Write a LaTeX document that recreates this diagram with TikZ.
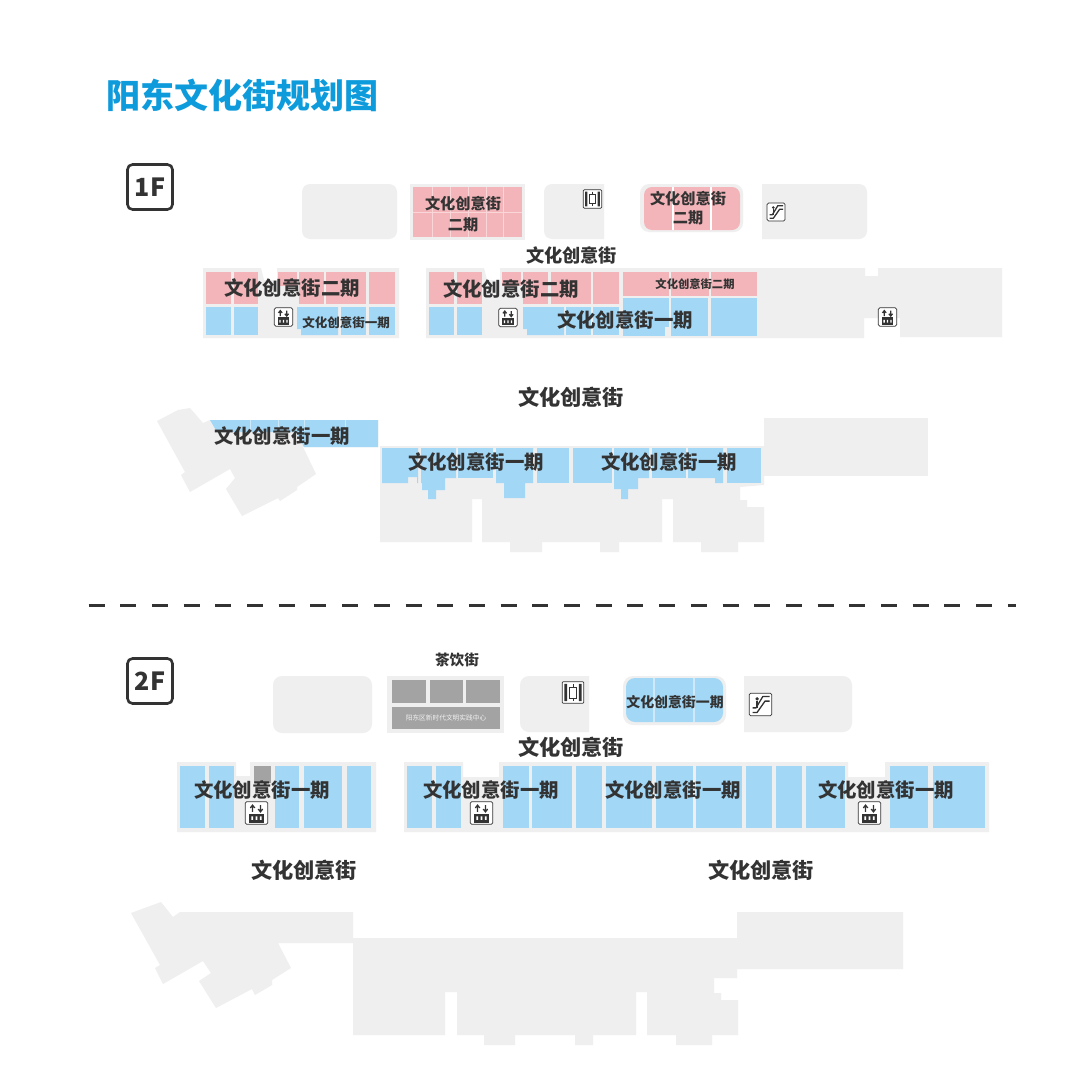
\documentclass[tikz,border=0pt]{standalone}
\usepackage{fontspec}
\setmainfont{Noto Sans CJK SC}
\definecolor{wallgray}{HTML}{EFEFEF}
\definecolor{pinkcell}{HTML}{F4B5BA}
\definecolor{pinkline}{HTML}{F9D6D8}
\definecolor{bluecell}{HTML}{A2D7F6}
\definecolor{blueline}{HTML}{CDE9FA}
\definecolor{darkcell}{HTML}{A3A3A3}
\definecolor{inkdark}{HTML}{333333}
\definecolor{titleblue}{HTML}{0E9BDC}
\tikzset{
  wall/.style={fill=wallgray},
  pinkarea/.style={fill=pinkcell},
  bluearea/.style={fill=bluecell},
  darkarea/.style={fill=darkcell},
  txt/.style={font=\bfseries\fontsize{#1}{#1}\selectfont,text=inkdark,inner sep=0pt},
  floorbox/.style={draw=inkdark,line width=2.6pt,rounded corners=5pt,minimum size=45pt,inner sep=0pt,
    font=\bfseries\fontsize{25}{25}\selectfont,text=inkdark},
  lifticon/.pic={
    \draw[inkdark,fill=white,line width=.7pt,rounded corners=1.5pt] (-10,-10) rectangle (10,10);
    \draw[inkdark,line width=1.2pt] (-3.5,-1) -- (-3.5,-6.5) (-5.5,-4.5) -- (-3.5,-7) -- (-1.5,-4.5);
    \draw[inkdark,line width=1.2pt] (3.5,-7) -- (3.5,-1.5) (1.5,-3.5) -- (3.5,-1) -- (5.5,-3.5);
    \fill[inkdark] (-6.5,0.5) rectangle (6.5,8.5);
    \fill[white] (-4.5,3) rectangle (-3,6) (-.8,3) rectangle (.8,6) (3,3) rectangle (4.5,6);
  },
  cargoicon/.pic={
    \draw[inkdark,fill=white,line width=.7pt,rounded corners=1pt] (-10,-10) rectangle (10,10);
    \fill[inkdark] (-8,-8) rectangle (-5.5,8) (5.5,-8) rectangle (8,8);
    \draw[inkdark,line width=.7pt] (-3,-5) rectangle (3,5) (0,-8) -- (0,-5) (0,5) -- (0,8);
  },
  stairicon/.pic={
    \draw[inkdark,fill=white,line width=.7pt,rounded corners=1.5pt] (-10,-10) rectangle (10,10);
    \draw[inkdark,line width=1.3pt,line join=round] (-7,7) -- (-3,7) -- (4,-3) -- (8,-3) (-7,3) -- (-4,3) -- (2,-7) -- (8,-7);
    \fill[inkdark] (-3,-5) circle (1.6pt);
    \draw[inkdark,line width=1.3pt] (-3,-3) -- (-3,3);
  }
}
\begin{document}
\begin{tikzpicture}[x=1pt,y=-1pt]
\useasboundingbox[fill=white] (0,0) rectangle (1080,1092);
\node[font=\bfseries\fontsize{34}{34}\selectfont,text=titleblue,inner sep=0pt] (title) at (242.5,95) {阳东文化街规划图};
\node[floorbox] (floorone) at (150,187) {1F};
\node[floorbox] (floortwo) at (150,681) {2F};
% first floor, top row
\fill[wall,rounded corners=8pt] (302,184) rectangle (397,239);
\fill[wall] (410,184) rectangle (525,240);
\fill[wall] (604,184) [rounded corners=8pt] -- (544,184) -- (544,239) [sharp corners] -- (604,239) -- cycle;
\fill[wall,rounded corners=9pt] (640,184) rectangle (743,232);
\fill[wall] (762,184) [rounded corners=8pt] -- (867,184) -- (867,239) [sharp corners] -- (762,239) -- cycle;
\fill[pinkarea] (413,187) rectangle (522,237);
\draw[pinkline,line width=.5pt] (413,212) -- (522,212);
\foreach \xa in {432,450,468,486,503} \draw[pinkline,line width=.8pt] (\xa,187) -- (\xa,237);
\fill[pinkarea,rounded corners=8pt] (644,187) rectangle (740,230);
\foreach \xa in {673,711} \draw[white,line width=1.2pt] (\xa,187) -- (\xa,230);
% first floor, middle row
\fill[wall] (203,268) -- (261,268) -- (264,280) -- (277,280) -- (277,268) -- (399,268) -- (399,338) -- (203,338) -- cycle;
\fill[wall] (426,268) -- (484,268) -- (487,280) -- (500,280) -- (500,268) -- (865,268) -- (865,276) -- (878,276) -- (878,268)
  -- (1002,268) -- (1002,337) -- (900,337) -- (900,318) -- (864,318) -- (864,338) -- (426,338) -- cycle;
\foreach \xa/\xb in {206/231,234/258,299/324,326/366,369/395,429/454,457/482,523/548,551/591,593/619}
  \fill[pinkarea] (\xa,272) rectangle (\xb,304);
\fill[pinkarea] (278,272) rectangle (297,286);
\fill[pinkarea] (502,272) rectangle (521,286);
\foreach \xa/\xb in {623/669,671/709,711/757} \fill[pinkarea] (\xa,272) rectangle (\xb,296);
\foreach \xa/\xb in {206/231,234/258,341/366,369/395,429/454,457/482,566/591,593/619}
  \fill[bluearea] (\xa,307) rectangle (\xb,335);
\fill[bluearea] (297,307) -- (338,307) -- (338,335) -- (301,335) -- (301,329) -- (297,329) -- cycle;
\fill[bluearea] (523,307) -- (564,307) -- (564,335) -- (527,335) -- (527,329) -- (523,329) -- cycle;
\fill[bluearea] (623,298) rectangle (669,327);
\fill[bluearea] (623,327) rectangle (665,336);
\fill[bluearea] (671,298) rectangle (708,336);
\fill[bluearea] (711,298) rectangle (757,336);
% first floor, lower block
\fill[wall] (157,421) -- (178,410) -- (190,408) -- (203,423) -- (210,420) -- (378,420) -- (378,447) -- (303,447) -- (316,474) -- (297,487)
  -- (297,490) -- (280,501) -- (278,498) -- (242,516) -- (226,489) -- (235,478) -- (230,469) -- (190,492) -- (181,475) -- (185,472) -- cycle;
\fill[bluearea] (210,420) -- (378,420) -- (378,447) -- (304,447) -- (296,432) -- (217,432) -- cycle;
\foreach \xa in {250,278,304,345} \draw[blueline,line width=.8pt] (\xa,420) -- (\xa,431);
\fill[wall] (380,446) -- (764,446) -- (764,485) -- (740,487) -- (740,500) -- (747,500) -- (747,507) -- (764,507) -- (764,542)
  -- (738,542) -- (738,552) -- (701,552) -- (701,542) -- (673,542) -- (673,499) -- (662,499) -- (662,542) -- (619,542) -- (619,552)
  -- (600,552) -- (600,542) -- (542,542) -- (542,552) -- (510,552) -- (510,542) -- (482,542) -- (482,499) -- (472,499) -- (472,542) -- (380,542) -- cycle;
\fill[wall] (764,418) rectangle (928,476);
\fill[bluearea] (382,448) -- (418,448) -- (418,483) -- (417,483) -- (417,477) -- (408,477) -- (408,483) -- (382,483) -- cycle;
\fill[bluearea] (421,448) -- (456,448) -- (456,478) -- (445,478) -- (445,490) -- (436,490) -- (436,499) -- (428,499) -- (428,490) -- (422,490) -- (422,483) -- (421,483) -- cycle;
\fill[bluearea] (458,448) rectangle (493,478);
\fill[bluearea] (496,448) -- (533,448) -- (533,483) -- (525,483) -- (525,498) -- (504,498) -- (504,483) -- (496,483) -- cycle;
\fill[bluearea] (537,448) rectangle (569,483);
\fill[bluearea] (573,448) rectangle (612,483);
\fill[bluearea] (614,448) -- (649,448) -- (649,478) -- (638,478) -- (638,489) -- (628,489) -- (628,499) -- (621,499) -- (621,489) -- (614,489) -- cycle;
\fill[bluearea] (652,448) rectangle (686,478);
\fill[bluearea] (688,448) -- (723,448) -- (723,483) -- (715,483) -- (715,478) -- (688,478) -- cycle;
\fill[bluearea] (727,448) rectangle (761,483);
% separator
\coordinate (sepleft) at (88.5,605.5);
\coordinate (sepright) at (1016,605.5);
\draw[inkdark,line width=2.8pt,dash pattern=on 16pt off 15.7pt] (sepleft) -- (sepright);
% second floor, top row
\fill[wall,rounded corners=9pt] (273,676) rectangle (372,733);
\fill[wall] (387,676) rectangle (504,733);
\foreach \xa/\xb in {392/426,430/463,466/500} \fill[darkarea] (\xa,680) rectangle (\xb,703);
\fill[darkarea] (392,707) rectangle (500,729);
\fill[wall] (589,676) [rounded corners=9pt] -- (520,676) -- (520,732) [sharp corners] -- (589,732) -- cycle;
\fill[wall,rounded corners=10pt] (623,676) rectangle (726,725);
\fill[wall] (744,676) [rounded corners=9pt] -- (852,676) -- (852,732) [sharp corners] -- (744,732) -- cycle;
\fill[bluearea,rounded corners=9pt] (626,678) rectangle (723,722);
\foreach \xa in {654,694} \draw[blueline,line width=1.2pt] (\xa,678) -- (\xa,722);
% second floor, middle row
\fill[wall] (177,762) -- (236,762) -- (236,776) -- (250,776) -- (250,762) -- (376,762) -- (376,832) -- (177,832) -- cycle;
\fill[wall] (404,762) -- (463,762) -- (463,777) -- (499,777) -- (499,762) -- (848,762) -- (848,777) -- (885,777) -- (885,762)
  -- (989,762) -- (989,832) -- (404,832) -- cycle;
\foreach \xa/\xb in {180/205,209/234,275/299,304/342,347/371,407/432,436/461,503/529,532/572,576/602,606/652,656/693,696/742,746/772,776/802,806/845,890/928,933/985}
  \fill[bluearea] (\xa,766) rectangle (\xb,828);
\fill[darkarea] (254,766) rectangle (271,783);
% second floor, lower block
\fill[wall] (131,913) -- (161,902) -- (173,917) -- (180,912) -- (353,912) -- (353,938) -- (737,938) -- (737,912) -- (903,912) -- (903,969) -- (737,969)
  -- (737,978) -- (714,978) -- (714,993) -- (721,993) -- (721,1000) -- (738,1000) -- (738,1035) -- (712,1035) -- (712,1045) -- (676,1045) -- (676,1035)
  -- (647,1035) -- (647,992) -- (636,992) -- (636,1035) -- (593,1035) -- (593,1045) -- (575,1045) -- (575,1035) -- (515,1035) -- (515,1045) -- (484,1045)
  -- (484,1035) -- (457,1035) -- (457,992) -- (445,992) -- (445,1035) -- (353,1035) -- (353,943) -- (278,943) -- (291,968) -- (272,980) -- (272,985)
  -- (255,995) -- (252,989) -- (216,1008) -- (199,981) -- (211,973) -- (203,961) -- (163,984) -- (155,968) -- (160,965) -- cycle;
% icons
\pic[scale=.92] at (592.5,199) {cargoicon};
\pic[scale=.9] at (776,212) {stairicon};
\pic[scale=.92] at (283.5,317) {lifticon};
\pic[scale=.92] at (508,317.5) {lifticon};
\pic[scale=.92] at (887.5,317) {lifticon};
\pic[scale=1.08] at (573,692.5) {cargoicon};
\pic[scale=1.13] at (760.5,704.5) {stairicon};
\pic[scale=1.13] at (256.5,813) {lifticon};
\pic[scale=1.13] at (481.5,813) {lifticon};
\pic[scale=1.13] at (869.5,813) {lifticon};
% labels
\node[txt=15.2] (pinka) at (463,204) {文化创意街};
\node[txt=15.2] (pinkb) at (463,225) {二期};
\node[txt=15.2] (pinkc) at (688,199) {文化创意街};
\node[txt=15.2] (pinkd) at (688,218) {二期};
\node[txt=18.2] (streeta) at (571.5,255) {文化创意街};
\node[txt=19.4] (phaseb) at (292,288) {文化创意街二期};
\node[txt=19.4] (phasec) at (511,289) {文化创意街二期};
\node[txt=11.3] (phased) at (695,284) {文化创意街二期};
\node[txt=12.5] (phasee) at (346,323) {文化创意街一期};
\node[txt=19.4] (phasef) at (625,320) {文化创意街一期};
\node[txt=21.2] (streetb) at (571,397) {文化创意街};
\node[txt=19.4] (phaseg) at (282,436) {文化创意街一期};
\node[txt=19.4] (phaseh) at (476,462) {文化创意街一期};
\node[txt=19.4] (phasei) at (669,462) {文化创意街一期};
\node[txt=14.6] (teastreet) at (457,660) {茶饮街};
\node[font=\fontsize{6.7}{6.7}\selectfont,text=white!85!darkcell,inner sep=0pt] (centre) at (446,718) {阳东区新时代文明实践中心};
\node[txt=13.9] (phasej) at (675,702) {文化创意街一期};
\node[txt=21.2] (streetc) at (571,747) {文化创意街};
\node[txt=19.4] (phasek) at (262,790) {文化创意街一期};
\node[txt=19.4] (phasel) at (491,790) {文化创意街一期};
\node[txt=19.4] (phasem) at (673,790) {文化创意街一期};
\node[txt=19.4] (phasen) at (886,790) {文化创意街一期};
\node[txt=21.2] (streetd) at (304,870) {文化创意街};
\node[txt=21.2] (streete) at (761,870) {文化创意街};
\end{tikzpicture}
\end{document}
